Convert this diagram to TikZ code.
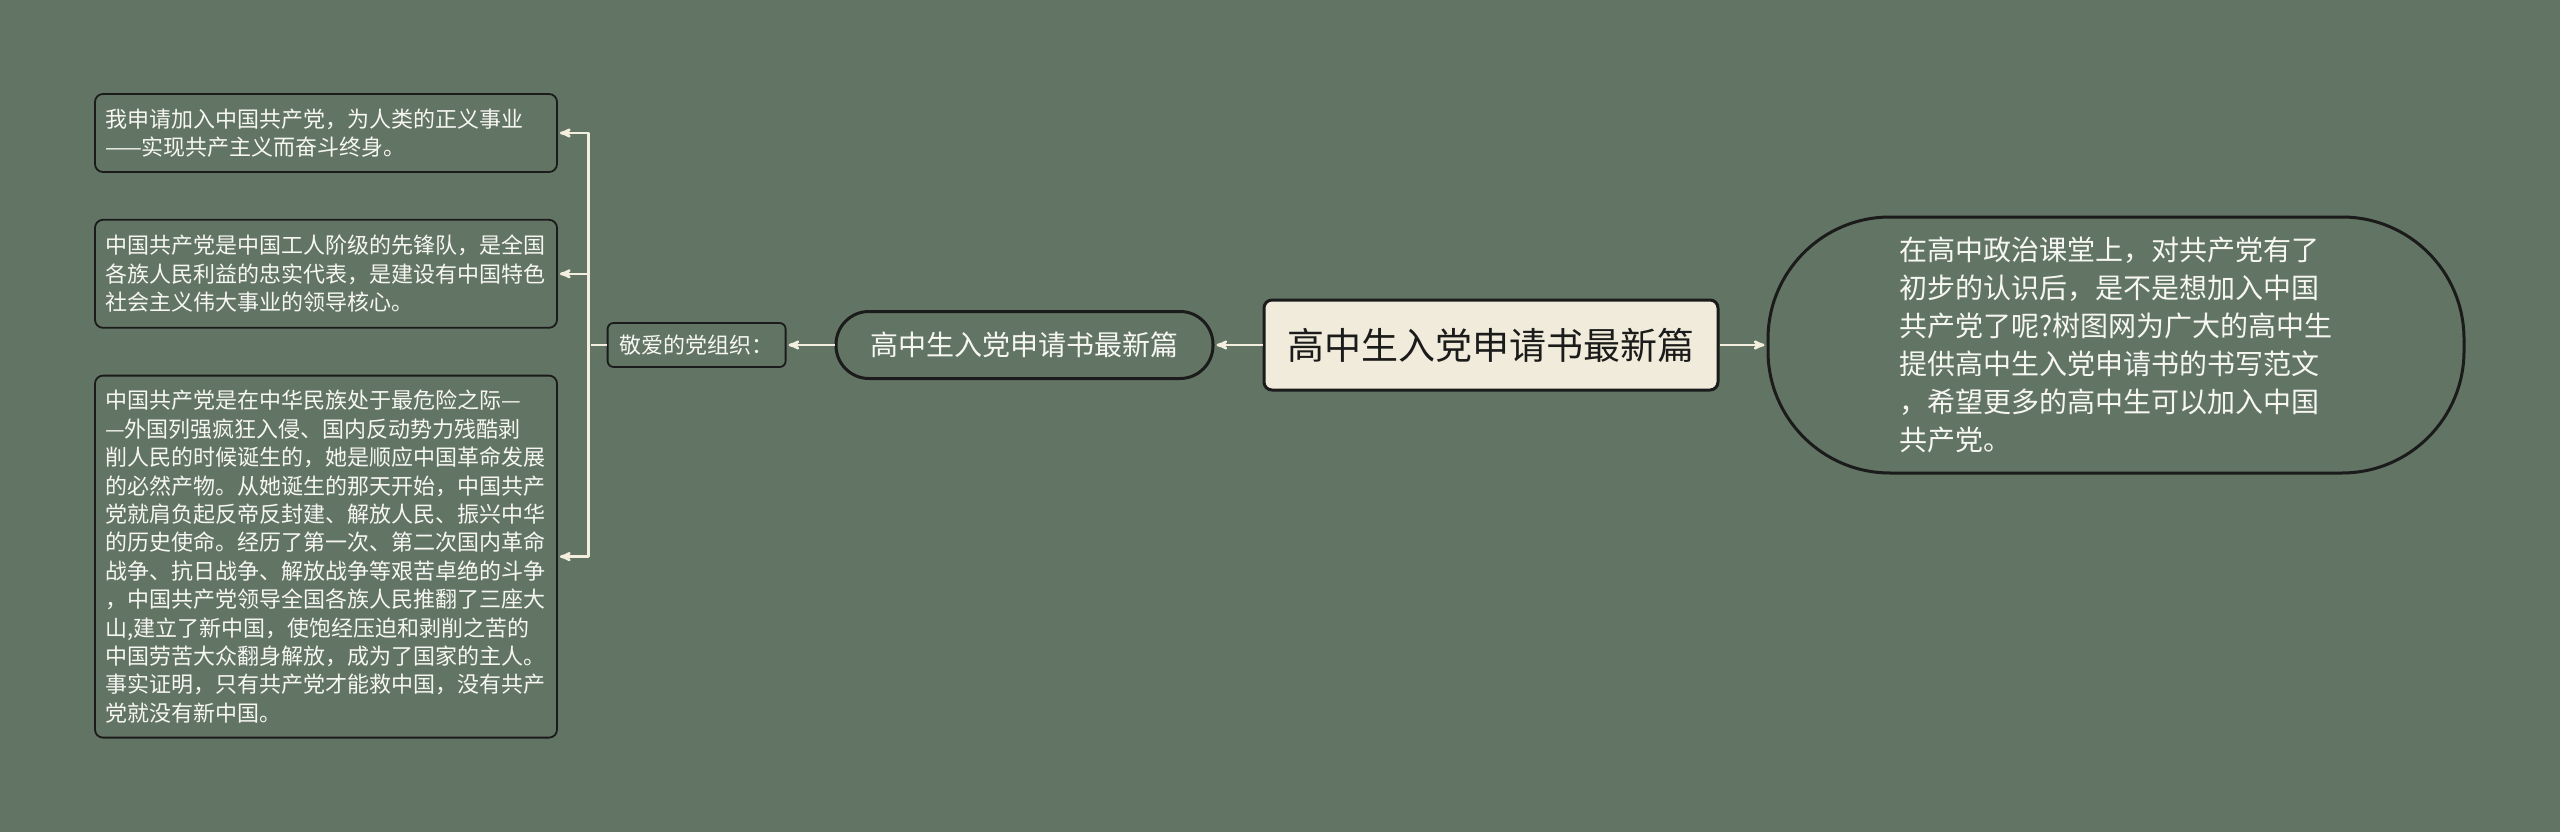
\documentclass[tikz,border=0pt]{standalone}
\usepackage{fontspec}
\setmainfont{Noto Sans CJK SC}
\usepackage{xcolor}
\usetikzlibrary{arrows,positioning}
\definecolor{bgcol}{HTML}{627464}
\definecolor{linecol}{HTML}{F3EEDD}
\definecolor{creamcol}{HTML}{F0EBDA}
\definecolor{edgecol}{HTML}{1B1B1B}
\definecolor{textcol}{HTML}{F7F7F2}

\begin{document}
\begin{tikzpicture}[x=1pt,y=1pt,->,>=stealth',shorten >=2pt,
  link/.style={draw=linecol,line width=2.5pt,line join=round},
  leaf node/.style={draw=edgecol,line width=1.8pt,fill=bgcol,rounded corners=8pt,
    text=textcol,align=left,text width=442pt,inner xsep=10pt,inner ysep=10pt,
    font=\fontsize{22pt}{28.4pt}\selectfont},
  main node/.style={draw=edgecol,line width=3pt,fill=creamcol,rounded corners=8pt,
    text=edgecol,minimum width=454pt,minimum height=90pt,
    font=\fontsize{37pt}{44pt}\selectfont},
  sub node/.style={draw=edgecol,line width=3pt,fill=bgcol,text=textcol,
    font=\fontsize{28pt}{38pt}\selectfont}]

  \fill[bgcol] (0,0) rectangle (2560,-832);
  \useasboundingbox (0,0) rectangle (2560,-832);

  \node[main node] (central) at (1491,-345) {高中生入党申请书最新篇};
  \node[sub node,rounded corners=33pt,minimum width=377pt,minimum height=67pt]
    (second) [left=48pt of central] {高中生入党申请书最新篇};
  \node[sub node,rounded corners=6pt,line width=1.8pt,minimum width=178pt,minimum height=44pt,
    font=\fontsize{22pt}{28pt}\selectfont]
    (jingai) [left=48pt of second] {敬爱的党组织：};
  \node[sub node,rounded corners=122pt,minimum width=696pt,minimum height=256pt,align=left]
    (intro) [right=47pt of central] {在高中政治课堂上，对共产党有了\\初步的认识后，是不是想加入中国\\共产党了呢?树图网为广大的高中生\\提供高中生入党申请书的书写范文\\，希望更多的高中生可以加入中国\\共产党。};

  \node[leaf node,minimum height=78pt] (leafA) at (326,-133)
    {我申请加入中国共产党，为人类的正义事业\\——实现共产主义而奋斗终身。};
  \node[leaf node,minimum height=108pt] (leafB) [below=46pt of leafA]
    {中国共产党是中国工人阶级的先锋队，是全国\\各族人民利益的忠实代表，是建设有中国特色\\社会主义伟大事业的领导核心。};
  \node[leaf node,minimum height=362pt] (leafC) [below=46pt of leafB]
    {中国共产党是在中华民族处于最危险之际—\\—外国列强疯狂入侵、国内反动势力残酷剥\\削人民的时候诞生的，她是顺应中国革命发展\\的必然产物。从她诞生的那天开始，中国共产\\党就肩负起反帝反封建、解放人民、振兴中华\\的历史使命。经历了第一次、第二次国内革命\\战争、抗日战争、解放战争等艰苦卓绝的斗争\\，中国共产党领导全国各族人民推翻了三座大\\山,建立了新中国，使饱经压迫和剥削之苦的\\中国劳苦大众翻身解放，成为了国家的主人。\\事实证明，只有共产党才能救中国，没有共产\\党就没有新中国。};

  \draw[link] (central) edge (second)
              (central) edge (intro)
              (second) edge (jingai);
  \draw[link,-] (jingai.west) -- ++(-18,0) coordinate (fork);
  \foreach \leaf in {leafA,leafB,leafC}
    \draw[link] (fork) |- (\leaf);
\end{tikzpicture}
\end{document}
